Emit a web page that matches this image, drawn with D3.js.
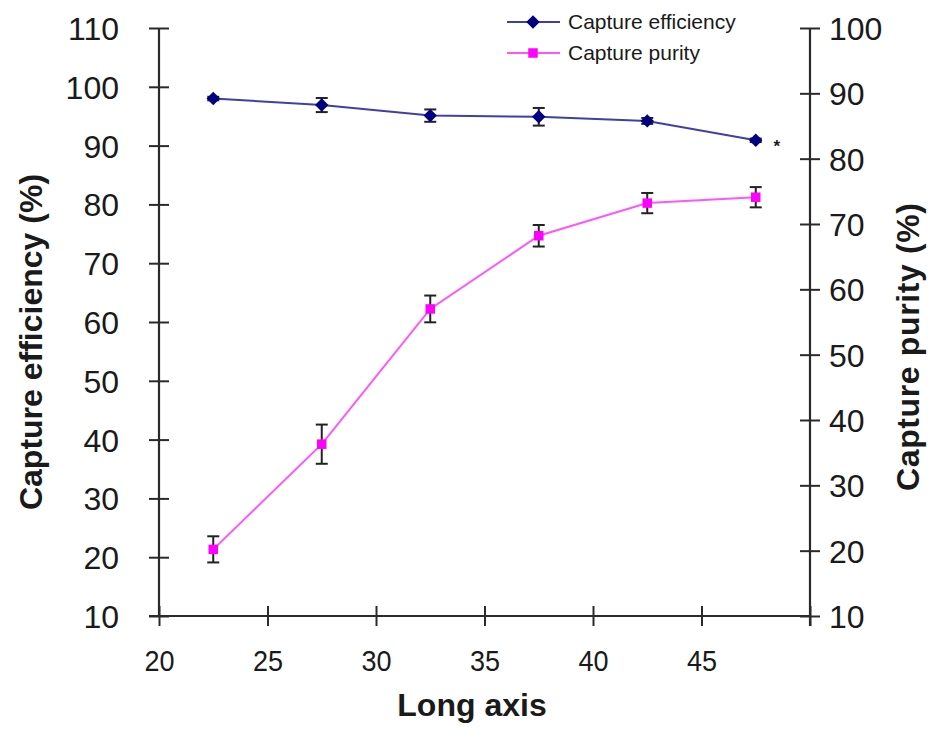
<!DOCTYPE html>
<html>
<head>
<meta charset="utf-8">
<script src="https://cdn.jsdelivr.net/npm/d3@7"></script>
<style>
  html, body { margin: 0; padding: 0; background: #fff; }
  svg { display: block; }
  text { font-family: "Liberation Sans", Arial, sans-serif; fill: #1a1a1a; }
</style>
</head>
<body>
<svg id="chart" width="945" height="740"></svg>
<script>
// ---- Data ----
const longAxis = [22.5, 27.5, 32.5, 37.5, 42.5, 47.5];
const efficiency = [98.0, 96.9, 95.1, 94.9, 94.2, 90.9];
const efficiencyErr = [0.3, 1.2, 1.05, 1.5, 0.5, 0.3];
const purity = [20.2, 36.3, 57.0, 68.2, 73.2, 74.1];
const purityErr = [2.0, 3.0, 2.05, 1.65, 1.55, 1.55];
const xTicks = [20, 25, 30, 35, 40, 45];
const leftTicks = [10, 20, 30, 40, 50, 60, 70, 80, 90, 100, 110];
const rightTicks = [10, 20, 30, 40, 50, 60, 70, 80, 90, 100];
const seriesNames = ["Capture efficiency", "Capture purity"];

const svg = d3.select("#chart");
const pLeft = 159, pRight = 810, pTop = 28, pBottom = 616;

const x = d3.scaleLinear().domain([20, 50]).range([pLeft, pRight]);
const yL = d3.scaleLinear().domain([10, 110]).range([pBottom, pTop]);
const yR = d3.scaleLinear().domain([10, 100]).range([pBottom, pTop]);

const axisColor = "#2a2a2a";
const tick = 10;

// Left axis
const gL = svg.append("g").attr("transform", `translate(${pLeft},0)`)
  .call(d3.axisLeft(yL).tickValues(leftTicks).tickSize(tick).tickPadding(30).tickSizeOuter(0));
gL.selectAll(".tick line").attr("x2", -tick).attr("x1", tick);
// Right axis
const gR = svg.append("g").attr("transform", `translate(${pRight},0)`)
  .call(d3.axisRight(yR).tickValues(rightTicks).tickSize(tick).tickPadding(9).tickSizeOuter(0));
gR.selectAll(".tick line").attr("x1", -tick).attr("x2", tick);
// Bottom axis
const gB = svg.append("g").attr("transform", `translate(0,${pBottom})`)
  .call(d3.axisBottom(x).tickValues(xTicks.concat([50])).tickSize(tick).tickPadding(24).tickSizeOuter(0)
    .tickFormat(d => xTicks.includes(d) ? d : ""));
gB.selectAll(".tick line").attr("y1", -tick).attr("y2", tick);

[gL, gR, gB].forEach(g => {
  g.select(".domain").attr("stroke", axisColor).attr("stroke-width", 2.2);
  g.selectAll(".tick line").attr("stroke", axisColor).attr("stroke-width", 2);
  g.selectAll(".tick text").style("font-family", '"Liberation Sans", Arial, sans-serif').attr("fill", "#1a1a1a");
});
gL.selectAll(".tick text").style("font-size", "32px").attr("dy", "0.36em");
gR.selectAll(".tick text").style("font-size", "32px").attr("dy", "0.36em");
gB.selectAll(".tick text").style("font-size", "30px").attr("dy", "0.71em")
  .attr("transform", "scale(0.9,1)");
gL.select(".domain").attr("d", `M0,${pBottom}V${pTop}`);
gR.select(".domain").attr("d", `M0,${pBottom + tick}V${pTop}`);
gB.select(".domain").attr("d", `M${pLeft - tick},0H${pRight}`);

// Axis titles
svg.append("text").attr("transform", `translate(42,342) rotate(-90)`)
  .attr("text-anchor", "middle").style("font-size", "32px").style("font-weight", "bold")
  .text("Capture efficiency (%)");
svg.append("text").attr("transform", `translate(919,347) rotate(-90)`)
  .attr("text-anchor", "middle").style("font-size", "32px").style("font-weight", "bold")
  .attr("textLength", 288).attr("lengthAdjust", "spacing")
  .text("Capture purity (%)");
svg.append("text").attr("x", 472).attr("y", 716)
  .attr("text-anchor", "middle").style("font-size", "32px").style("font-weight", "bold")
  .text("Long axis");

const effLine = "#3f3fa8", effMark = "#000080";
const purLine = "#ff55ff", purMark = "#ff00ff";

const effData = longAxis.map((d, i) => ({ x: d, y: efficiency[i], e: efficiencyErr[i] }));
const purData = longAxis.map((d, i) => ({ x: d, y: purity[i], e: purityErr[i] }));

// Lines
svg.append("path").datum(effData)
  .attr("d", d3.line().x(d => x(d.x)).y(d => yL(d.y)))
  .attr("fill", "none").attr("stroke", effLine).attr("stroke-width", 2);
svg.append("path").datum(purData)
  .attr("d", d3.line().x(d => x(d.x)).y(d => yR(d.y)))
  .attr("fill", "none").attr("stroke", purLine).attr("stroke-width", 2);

// Error bars
function errorBars(data, y) {
  const g = svg.append("g").attr("stroke", "#222").attr("stroke-width", 2);
  data.forEach(d => {
    const cx = x(d.x), y1 = y(d.y - d.e), y2 = y(d.y + d.e);
    g.append("line").attr("x1", cx).attr("x2", cx).attr("y1", y1).attr("y2", y2);
    g.append("line").attr("x1", cx - 6).attr("x2", cx + 6).attr("y1", y1).attr("y2", y1);
    g.append("line").attr("x1", cx - 6).attr("x2", cx + 6).attr("y1", y2).attr("y2", y2);
  });
}
errorBars(effData, yL);
errorBars(purData, yR);

// Markers
const diamond = d3.symbol().type(d3.symbolDiamond2).size(115);
const square = d3.symbol().type(d3.symbolSquare2).size(115);
svg.append("g").selectAll("path").data(effData).join("path")
  .attr("transform", d => `translate(${x(d.x)},${yL(d.y)})`)
  .attr("d", diamond).attr("fill", effMark);
svg.append("g").selectAll("path").data(purData).join("path")
  .attr("transform", d => `translate(${x(d.x)},${yR(d.y)})`)
  .attr("d", square).attr("fill", purMark);

// Significance mark
const last = effData[effData.length - 1];
svg.append("text").attr("x", x(last.x) + 21).attr("y", yL(last.y) + 12)
  .attr("text-anchor", "middle").style("font-size", "17px").style("font-weight", "bold").text("*");

// Legend
const legend = svg.append("g");
const legendItems = [
  { name: seriesNames[0], line: effLine, mark: effMark, sym: diamond, y: 22 },
  { name: seriesNames[1], line: purLine, mark: purMark, sym: square, y: 53 }
];
legendItems.forEach(it => {
  legend.append("line").attr("x1", 507).attr("x2", 560).attr("y1", it.y).attr("y2", it.y)
    .attr("stroke", it.line).attr("stroke-width", 2);
  legend.append("path").attr("transform", `translate(533,${it.y})`).attr("d", it.sym).attr("fill", it.mark);
  legend.append("text").attr("x", 568).attr("y", it.y).attr("dy", "0.35em")
    .style("font-size", "21px").attr("fill", "#333").text(it.name);
});
</script>
</body>
</html>
